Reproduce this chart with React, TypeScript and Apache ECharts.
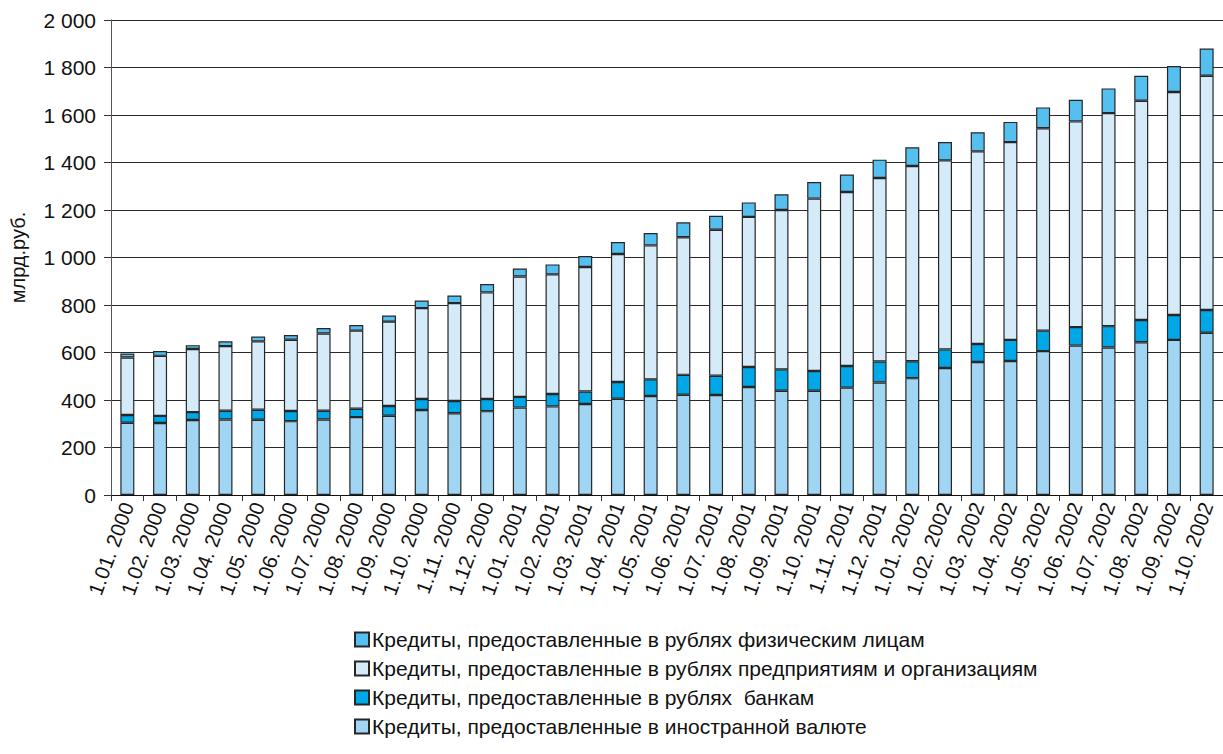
import React, { useEffect, useRef } from "react";
import * as echarts from "echarts";

const categories = [
  "1.01. 2000", "1.02. 2000", "1.03. 2000", "1.04. 2000", "1.05. 2000", "1.06. 2000",
  "1.07. 2000", "1.08. 2000", "1.09. 2000", "1.10. 2000", "1.11. 2000", "1.12. 2000",
  "1.01. 2001", "1.02. 2001", "1.03. 2001", "1.04. 2001", "1.05. 2001", "1.06. 2001",
  "1.07. 2001", "1.08. 2001", "1.09. 2001", "1.10. 2001", "1.11. 2001", "1.12. 2001",
  "1.01. 2002", "1.02. 2002", "1.03. 2002", "1.04. 2002", "1.05. 2002", "1.06. 2002",
  "1.07. 2002", "1.08. 2002", "1.09. 2002", "1.10. 2002",
];

const foreignCurrency = [
  304, 303, 316, 318, 317, 311, 318, 328, 334, 358, 344, 353,
  368, 373, 383, 405, 417, 422, 421, 455, 439, 439, 452, 474,
  492, 535, 560, 564, 606, 629, 621, 643, 653, 683,
];
const banks = [
  33, 30, 33, 37, 42, 43, 37, 35, 41, 46, 52, 51,
  45, 52, 53, 71, 70, 84, 81, 84, 90, 83, 91, 88,
  71, 78, 76, 89, 86, 78, 90, 94, 105, 96,
];
const enterprises = [
  242, 253, 266, 272, 288, 300, 325, 329, 355, 383, 412, 449,
  507, 504, 524, 539, 564, 579, 615, 632, 671, 726, 733, 773,
  822, 796, 811, 833, 852, 866, 897, 923, 939, 986,
];
const individuals = [
  17, 20, 16, 20, 20, 20, 23, 24, 26, 32, 32, 35,
  34, 42, 46, 50, 52, 63, 59, 61, 66, 70, 73, 77,
  79, 77, 80, 85, 88, 91, 104, 105, 109, 115,
];

const seriesNames = [
  "Кредиты, предоставленные в рублях физическим лицам",
  "Кредиты, предоставленные в рублях предприятиям и организациям",
  "Кредиты, предоставленные в рублях  банкам",
  "Кредиты, предоставленные в иностранной валюте",
];
const yAxisName = "млрд.руб.";

const FONT = "'Liberation Sans', Arial, Helvetica, sans-serif";

export default function App() {
  const ref = useRef<HTMLDivElement>(null);

  useEffect(() => {
    if (!ref.current) return;
    const chart = echarts.init(ref.current, null, { renderer: "svg" });
    const mk = (name: string, data: number[], color: string) => ({
      name,
      type: "bar",
      stack: "total",
      data,
      barWidth: 14,
      itemStyle: { color, borderColor: "#262626", borderWidth: 1.2 },
    });
    chart.setOption({
      animation: false,
      textStyle: { fontFamily: FONT },
      grid: { left: 108.5, right: -10, top: 20, bottom: 259, containLabel: false },
      legend: {
        orient: "vertical",
        left: 349,
        top: 624,
        itemWidth: 14,
        itemHeight: 14,
        itemGap: 8,
        icon: "rect",
        data: seriesNames,
        textStyle: { fontFamily: FONT, fontSize: 21, lineHeight: 20, color: "#111", padding: [0, 0, 0, -2] },
      },
      xAxis: {
        type: "category",
        data: categories,
        axisLine: { lineStyle: { color: "#111", width: 1 } },
        axisTick: { show: true, length: 6, lineStyle: { color: "#333" } },
        axisLabel: {
          rotate: 70,
          margin: 8,
          interval: 0,
          fontSize: 20.5,
          color: "#111",
          fontFamily: FONT,
        },
      },
      yAxis: {
        type: "value",
        min: 0,
        max: 2000,
        interval: 200,
        name: yAxisName,
        nameLocation: "middle",
        nameGap: 83,
        nameTextStyle: { fontSize: 20, color: "#111", fontFamily: FONT },
        axisLine: { show: true, lineStyle: { color: "#555", width: 1 } },
        axisTick: { show: true, length: 7, lineStyle: { color: "#333" } },
        axisLabel: {
          margin: 15,
          fontSize: 21,
          color: "#111",
          fontFamily: FONT,
          formatter: (v: number) => String(v).replace(/\B(?=(\d{3})+(?!\d))/g, " "),
        },
        splitLine: { show: true, lineStyle: { color: "#2a2a2a", width: 1 } },
      },
      series: [
        mk(seriesNames[3], foreignCurrency, "#A0D5F3"),
        mk(seriesNames[2], banks, "#00A8E8"),
        mk(seriesNames[1], enterprises, "#D5EBFA"),
        mk(seriesNames[0], individuals, "#55BFEF"),
      ],
    });
    return () => chart.dispose();
  }, []);

  return (
    <div
      ref={ref}
      style={{ position: "fixed", left: 0, top: 0, width: 1223, height: 754, background: "#fff" }}
    />
  );
}
